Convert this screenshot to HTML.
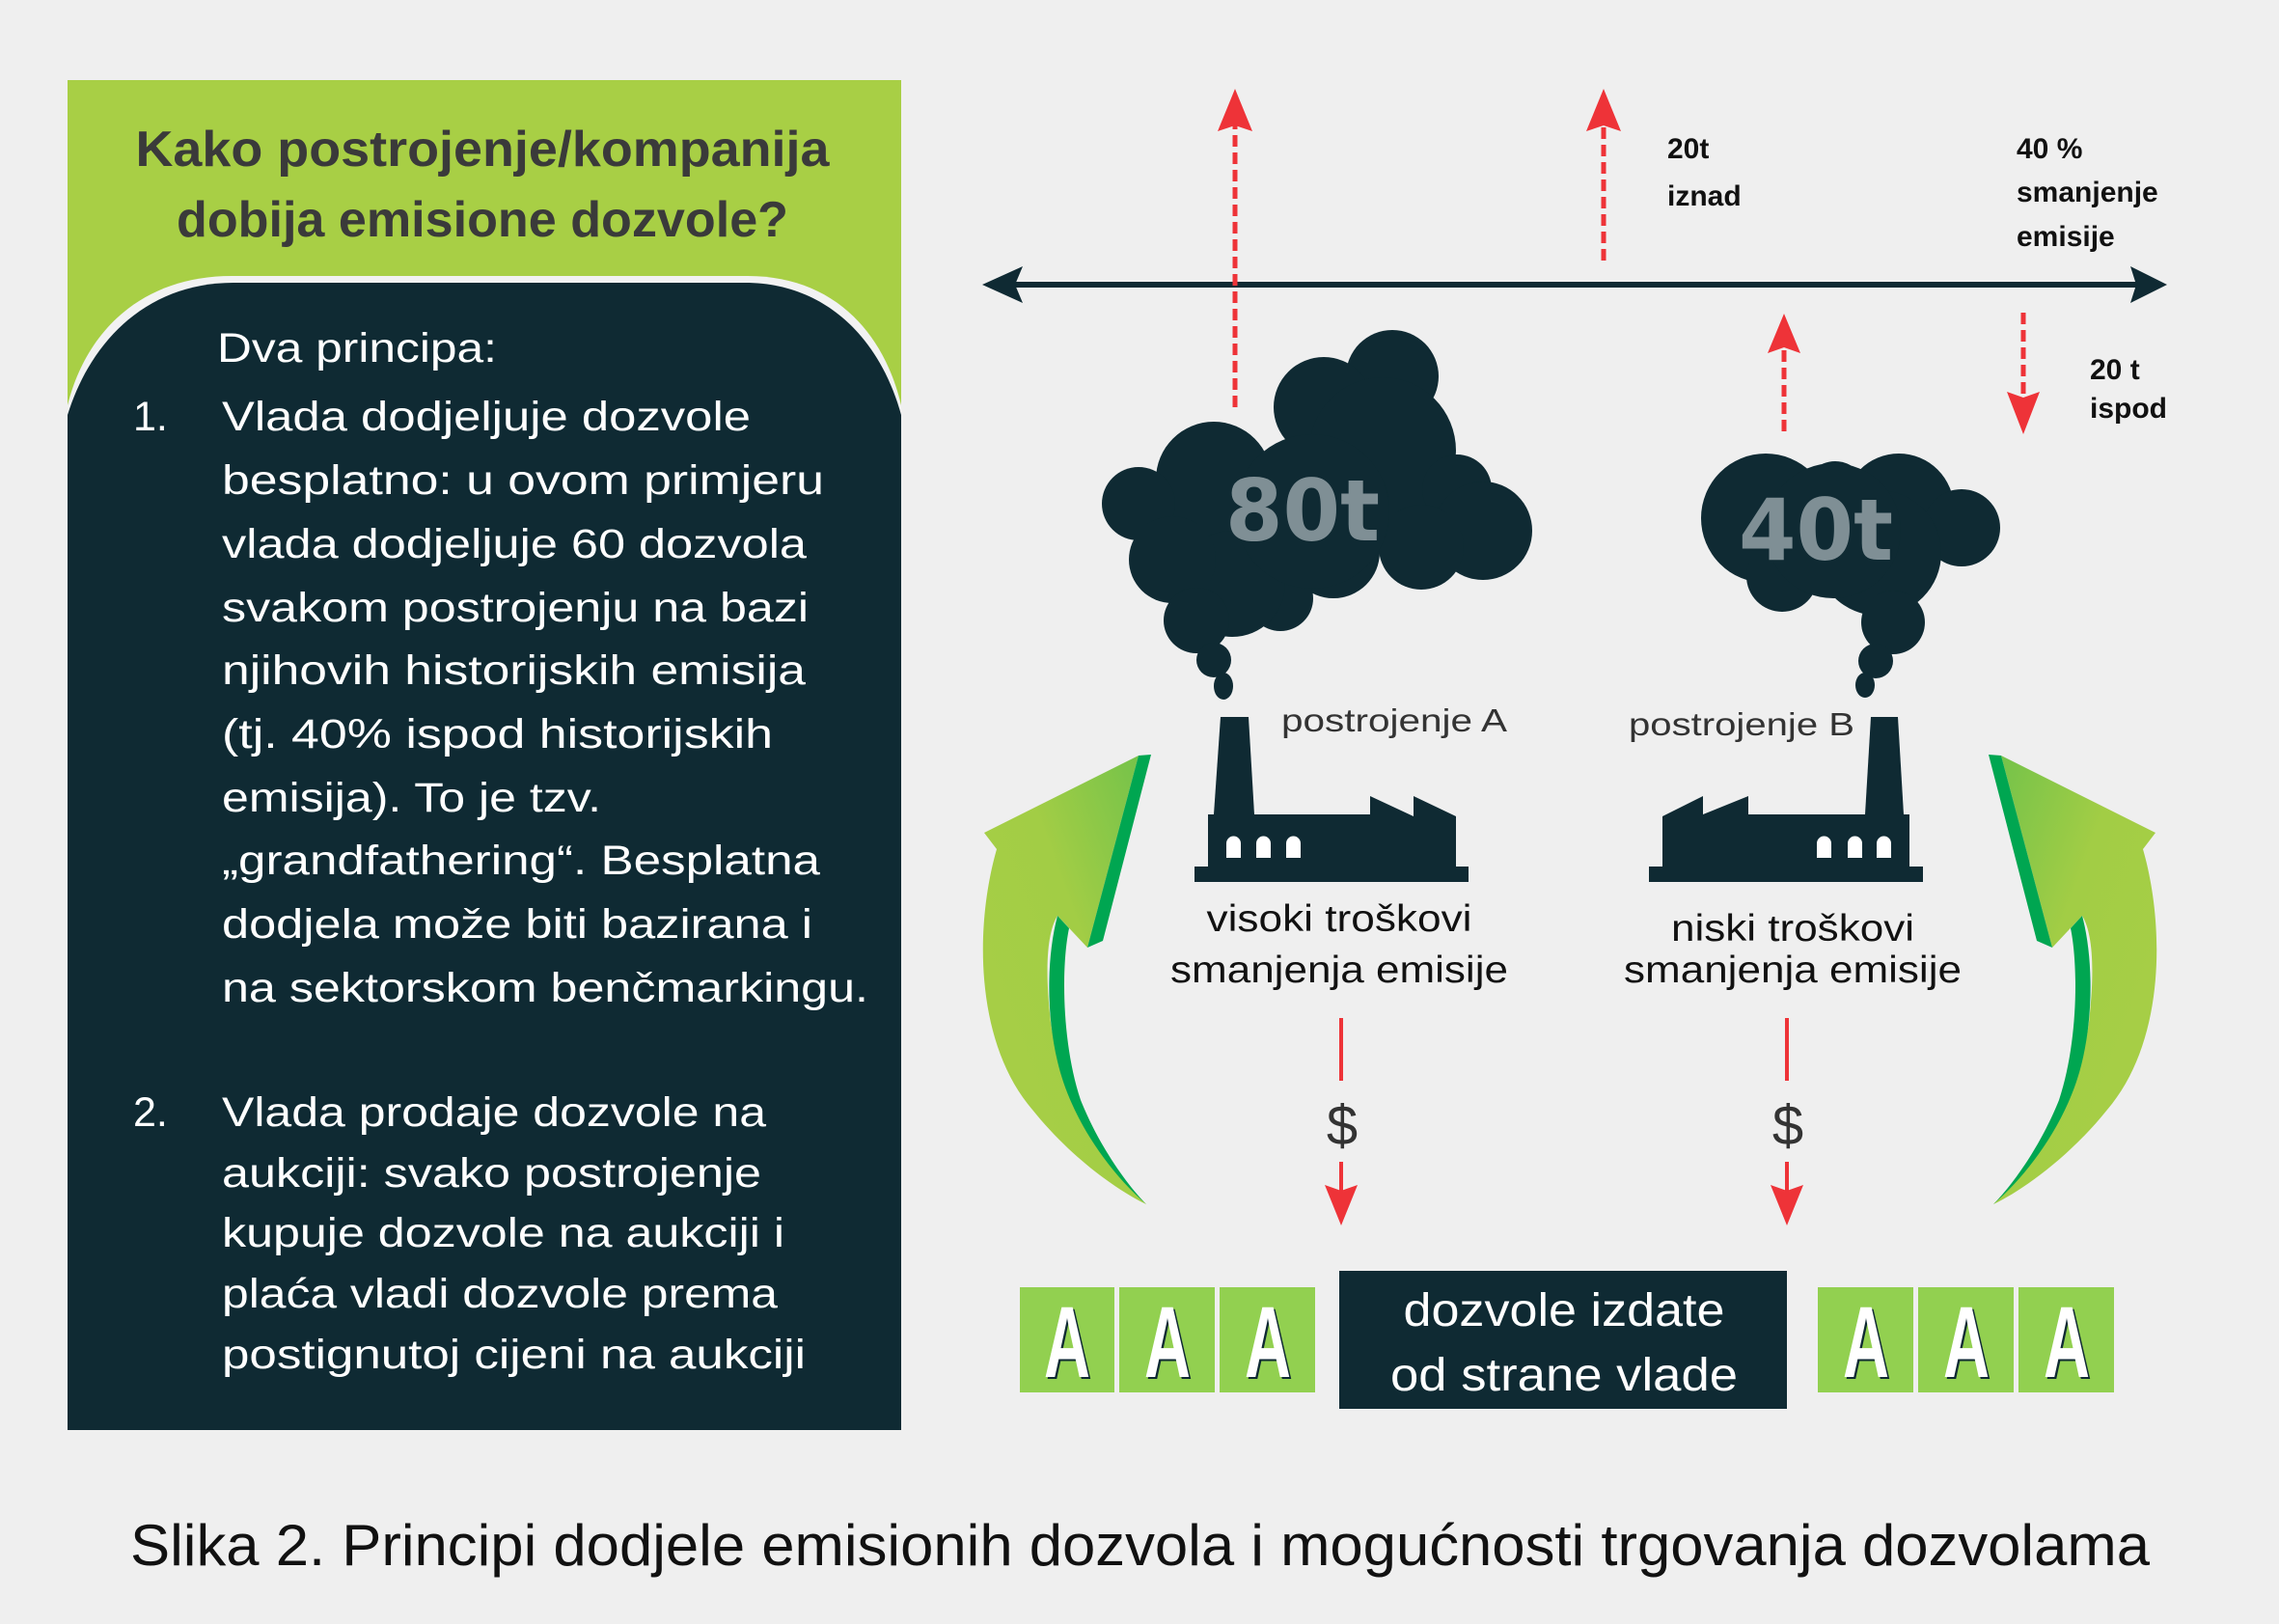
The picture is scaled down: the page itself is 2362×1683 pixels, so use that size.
<!DOCTYPE html>
<html><head><meta charset="utf-8"><style>html,body{margin:0;padding:0;background:#efefef}svg{display:block}</style></head>
<body>
<svg width="2362" height="1683" viewBox="0 0 2362 1683" xmlns="http://www.w3.org/2000/svg">
<defs>
<linearGradient id="g1" x1="0" y1="1" x2="1" y2="0"><stop offset="0" stop-color="#a9cf46"/><stop offset="0.6" stop-color="#a2cd45"/><stop offset="1" stop-color="#72c24a"/></linearGradient>
</defs>
<rect width="2362" height="1683" fill="#efefef"/>
<!-- left panel -->
<rect x="70" y="83" width="864" height="1399" fill="#a8cf45"/>
<path d="M70,1482 L70,420 C90,340 150,286 240,286 L775,286 C860,286 915,340 934,420 L934,1482 Z" fill="#f2f2f2"/>
<path d="M70,1482 L70,430 C95,350 155,293 242,293 L772,293 C855,293 912,350 934,430 L934,1482 Z" fill="#0f2a33"/>
<g font-family="Liberation Sans, sans-serif">
<text x="500" y="172" font-size="52" font-weight="bold" fill="#3a3a3a" text-anchor="middle" textLength="719" lengthAdjust="spacingAndGlyphs">Kako postrojenje/kompanija</text>
<text x="500" y="245" font-size="52" font-weight="bold" fill="#3a3a3a" text-anchor="middle" textLength="634" lengthAdjust="spacingAndGlyphs">dobija emisione dozvole?</text>
<g fill="#ffffff" font-size="43" lengthAdjust="spacingAndGlyphs">
<text x="225" y="375" textLength="290" lengthAdjust="spacingAndGlyphs">Dva principa:</text>
<text x="138" y="446">1.</text>
<text x="230" y="446" textLength="548" lengthAdjust="spacingAndGlyphs">Vlada dodjeljuje dozvole</text>
<text x="230" y="512" textLength="624" lengthAdjust="spacingAndGlyphs">besplatno: u ovom primjeru</text>
<text x="230" y="578" textLength="606" lengthAdjust="spacingAndGlyphs">vlada dodjeljuje 60 dozvola</text>
<text x="230" y="644" textLength="608" lengthAdjust="spacingAndGlyphs">svakom postrojenju na bazi</text>
<text x="230" y="709" textLength="605" lengthAdjust="spacingAndGlyphs">njihovih historijskih emisija</text>
<text x="230" y="775" textLength="571" lengthAdjust="spacingAndGlyphs">(tj. 40%  ispod historijskih</text>
<text x="230" y="841" textLength="393" lengthAdjust="spacingAndGlyphs">emisija). To je tzv.</text>
<text x="230" y="906" textLength="620" lengthAdjust="spacingAndGlyphs">„grandfathering“. Besplatna</text>
<text x="230" y="972" textLength="612" lengthAdjust="spacingAndGlyphs">dodjela može biti bazirana i</text>
<text x="230" y="1038" textLength="670" lengthAdjust="spacingAndGlyphs">na sektorskom benčmarkingu.</text>
<text x="138" y="1167">2.</text>
<text x="230" y="1167" textLength="564" lengthAdjust="spacingAndGlyphs">Vlada prodaje dozvole na</text>
<text x="230" y="1230" textLength="559" lengthAdjust="spacingAndGlyphs">aukciji: svako postrojenje</text>
<text x="230" y="1292" textLength="583" lengthAdjust="spacingAndGlyphs">kupuje dozvole na aukciji i</text>
<text x="230" y="1355" textLength="576" lengthAdjust="spacingAndGlyphs">plaća vladi dozvole prema</text>
<text x="230" y="1418" textLength="605" lengthAdjust="spacingAndGlyphs">postignutoj cijeni na aukciji</text>
</g>
<text x="135" y="1622" font-size="60" fill="#111" textLength="2093" lengthAdjust="spacingAndGlyphs">Slika 2. Principi dodjele emisionih dozvola i mogućnosti trgovanja dozvolama</text>
</g>
<!-- axis -->
<line x1="1050" y1="295" x2="2215" y2="295" stroke="#0f2a33" stroke-width="6"/>
<polygon points="1018,295 1060,276 1052,295 1060,314" fill="#0f2a33"/>
<polygon points="2246,295 2208,276 2214,295 2208,314" fill="#0f2a33"/>
<!-- red dashed arrows -->
<g stroke="#ee3338" stroke-width="5" stroke-dasharray="12,6">
<line x1="1280" y1="422" x2="1280" y2="130"/>
<line x1="1662" y1="270" x2="1662" y2="130"/>
<line x1="1849" y1="447" x2="1849" y2="362"/>
<line x1="2097" y1="324" x2="2097" y2="410"/>
</g>
<g fill="#ee3338">
<polygon points="1280,92 1262,136 1280,130 1298,136"/>
<polygon points="1662,92 1644,136 1662,130 1680,136"/>
<polygon points="1849,325 1832,366 1849,360 1866,366"/>
<polygon points="2097,450 2080,406 2097,412 2114,406"/>
</g>
<g font-family="Liberation Sans, sans-serif" font-weight="bold" font-size="30" fill="#111">
<text x="1728" y="164">20t</text>
<text x="1728" y="213">iznad</text>
<text x="2090" y="164">40 %</text>
<text x="2090" y="209">smanjenje</text>
<text x="2090" y="255">emisije</text>
<text x="2166" y="393">20 t</text>
<text x="2166" y="433">ispod</text>
</g>
<!-- cloud A -->
<g fill="#0f2a33">
<circle cx="1443" cy="390" r="48"/>
<circle cx="1372" cy="422" r="52"/>
<circle cx="1433" cy="467" r="76"/>
<circle cx="1258" cy="497" r="60"/>
<circle cx="1180" cy="522" r="38"/>
<circle cx="1510" cy="507" r="36"/>
<circle cx="1537" cy="550" r="51"/>
<circle cx="1473" cy="567" r="44"/>
<circle cx="1382" cy="572" r="48"/>
<circle cx="1327" cy="620" r="34"/>
<circle cx="1277" cy="605" r="55"/>
<circle cx="1215" cy="580" r="45"/>
<circle cx="1240" cy="643" r="34"/>
<circle cx="1360" cy="530" r="80"/>
<circle cx="1258" cy="684" r="18"/>
<ellipse cx="1268" cy="711" rx="10" ry="14"/>
</g>
<text x="1350" y="560" font-family="DejaVu Sans, sans-serif" font-weight="bold" font-size="88" fill="#7f8f95" text-anchor="middle" textLength="160" lengthAdjust="spacingAndGlyphs">80t</text>
<!-- cloud B -->
<g fill="#0f2a33">
<circle cx="1830" cy="537" r="67"/>
<circle cx="1902" cy="510" r="32"/>
<circle cx="1968" cy="527" r="57"/>
<circle cx="2033" cy="547" r="40"/>
<circle cx="1847" cy="597" r="37"/>
<circle cx="1947" cy="573" r="65"/>
<circle cx="1900" cy="550" r="70"/>
<circle cx="1962" cy="645" r="33"/>
<circle cx="1944" cy="685" r="18"/>
<ellipse cx="1933" cy="710" rx="10" ry="13"/>
</g>
<text x="1882" y="580" font-family="DejaVu Sans, sans-serif" font-weight="bold" font-size="88" fill="#7f8f95" text-anchor="middle" textLength="160" lengthAdjust="spacingAndGlyphs">40t</text>
<!-- factories -->
<g fill="#0f2a33">
<polygon points="1265,743 1294,743 1300,844 1258,844"/>
<polygon points="1252,844 1420,844 1420,825 1465,846 1465,825 1509,846 1509,898 1252,898"/>
<rect x="1238" y="898" width="284" height="16"/>
<polygon points="1939,743 1967,743 1973,844 1933,844"/>
<polygon points="1723,846 1765,825 1765,844 1812,825 1812,844 1979,844 1979,898 1723,898"/>
<rect x="1709" y="898" width="284" height="16"/>
</g>
<g fill="#ffffff">
<path d="M1271,889 V874 a7.5,7.5 0 0 1 15,0 V889 Z"/>
<path d="M1302,889 V874 a7.5,7.5 0 0 1 15,0 V889 Z"/>
<path d="M1333,889 V874 a7.5,7.5 0 0 1 15,0 V889 Z"/>
<path d="M1883,889 V874 a7.5,7.5 0 0 1 15,0 V889 Z"/>
<path d="M1915,889 V874 a7.5,7.5 0 0 1 15,0 V889 Z"/>
<path d="M1945,889 V874 a7.5,7.5 0 0 1 15,0 V889 Z"/>
</g>
<g font-family="Liberation Sans, sans-serif" fill="#333" font-size="33">
<text x="1328" y="758" textLength="234" lengthAdjust="spacingAndGlyphs">postrojenje A</text>
<text x="1688" y="762" textLength="234" lengthAdjust="spacingAndGlyphs">postrojenje B</text>
</g>
<g font-family="Liberation Sans, sans-serif" fill="#111" font-size="39" text-anchor="middle">
<text x="1388" y="965" textLength="275" lengthAdjust="spacingAndGlyphs">visoki troškovi</text>
<text x="1388" y="1018" textLength="350" lengthAdjust="spacingAndGlyphs">smanjenja emisije</text>
<text x="1858" y="975" textLength="252" lengthAdjust="spacingAndGlyphs">niski troškovi</text>
<text x="1858" y="1018" textLength="350" lengthAdjust="spacingAndGlyphs">smanjenja emisije</text>
</g>
<!-- $ arrows -->
<g stroke="#ee3338" stroke-width="4">
<line x1="1390" y1="1055" x2="1390" y2="1120"/>
<line x1="1390" y1="1204" x2="1390" y2="1235"/>
<line x1="1852" y1="1055" x2="1852" y2="1120"/>
<line x1="1852" y1="1204" x2="1852" y2="1235"/>
</g>
<g fill="#ee3338">
<polygon points="1390,1270 1373,1228 1390,1234 1407,1228"/>
<polygon points="1852,1270 1835,1228 1852,1234 1869,1228"/>
</g>
<g font-family="Liberation Sans, sans-serif" fill="#333" font-size="58" text-anchor="middle">
<text x="1391" y="1186">$</text>
<text x="1853" y="1186">$</text>
</g>
<!-- green arrows -->
<g id="ga">
<path d="M1180,783 L1020,863 L1033,880 C1010,960 1010,1080 1070,1150 C1110,1200 1160,1235 1188,1248 C1140,1200 1095,1130 1088,1050 C1082,990 1088,962 1096,949 L1127,982 Z" fill="url(#g1)"/>
<path d="M1180,783 L1193,782 L1143,975 L1127,982 Z" fill="#00a651"/>
<path d="M1096,949 L1108,962 C1100,1000 1100,1080 1120,1140 C1140,1190 1170,1230 1188,1248 C1150,1215 1110,1160 1096,1100 C1084,1050 1085,990 1096,949 Z" fill="#00a651"/>
</g>
<use href="#ga" transform="translate(3254,0) scale(-1,1)"/>
<!-- permit boxes -->
<rect x="1388" y="1317" width="464" height="143" fill="#0f2a33"/>
<g font-family="Liberation Sans, sans-serif" fill="#fff" font-size="48" text-anchor="middle">
<text x="1621" y="1374" textLength="333" lengthAdjust="spacingAndGlyphs">dozvole izdate</text>
<text x="1621" y="1441" textLength="360" lengthAdjust="spacingAndGlyphs">od strane vlade</text>
</g>
<g fill="#92d050">
<rect x="1057" y="1334" width="98" height="109"/>
<rect x="1160" y="1334" width="99" height="109"/>
<rect x="1264" y="1334" width="99" height="109"/>
<rect x="1884" y="1334" width="99" height="109"/>
<rect x="1988" y="1334" width="99" height="109"/>
<rect x="2092" y="1334" width="99" height="109"/>
</g>
<g font-family="Liberation Sans, sans-serif" font-weight="bold" font-size="105" text-anchor="middle">
<g fill="#0f2a33" transform="translate(2,2)">
<text x="1106" y="1427" textLength="48" lengthAdjust="spacingAndGlyphs">A</text>
<text x="1210" y="1427" textLength="48" lengthAdjust="spacingAndGlyphs">A</text>
<text x="1314" y="1427" textLength="48" lengthAdjust="spacingAndGlyphs">A</text>
<text x="1934" y="1427" textLength="48" lengthAdjust="spacingAndGlyphs">A</text>
<text x="2038" y="1427" textLength="48" lengthAdjust="spacingAndGlyphs">A</text>
<text x="2142" y="1427" textLength="48" lengthAdjust="spacingAndGlyphs">A</text>
</g>
<g fill="#fff">
<text x="1106" y="1427" textLength="48" lengthAdjust="spacingAndGlyphs">A</text>
<text x="1210" y="1427" textLength="48" lengthAdjust="spacingAndGlyphs">A</text>
<text x="1314" y="1427" textLength="48" lengthAdjust="spacingAndGlyphs">A</text>
<text x="1934" y="1427" textLength="48" lengthAdjust="spacingAndGlyphs">A</text>
<text x="2038" y="1427" textLength="48" lengthAdjust="spacingAndGlyphs">A</text>
<text x="2142" y="1427" textLength="48" lengthAdjust="spacingAndGlyphs">A</text>
</g>
</g>
</svg>
</body></html>
